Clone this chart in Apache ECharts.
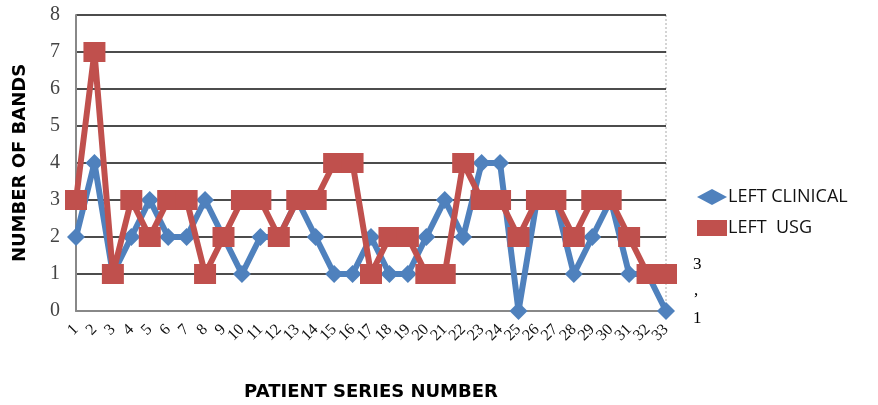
<!DOCTYPE html>
<html>
<head>
<meta charset="utf-8">
<script src="https://cdn.jsdelivr.net/npm/echarts@6/dist/echarts.min.js"></script>
<style>
  html, body { margin: 0; padding: 0; background: #fff; }
  #main { width: 878px; height: 405px; }
</style>
</head>
<body>
<div id="main"></div>
<script>
const myChart = echarts.init(document.getElementById('main'));

const patients = Array.from({ length: 33 }, (v, i) => String(i + 1));
const leftClinical = [2, 4, 1, 2, 3, 2, 2, 3, 2, 1, 2, 2, 3, 2, 1, 1, 2, 1, 1, 2, 3, 2, 4, 4, 0, 3, 3, 1, 2, 3, 1, 1, 0];
const leftUsg = [3, 7, 1, 3, 2, 3, 3, 1, 2, 3, 3, 2, 3, 3, 4, 4, 1, 2, 2, 1, 1, 4, 3, 3, 2, 3, 3, 2, 3, 3, 2, 1, 1];
const seriesNames = ['LEFT CLINICAL', 'LEFT  USG'];

const serif = 'Liberation Serif';
const sans = 'Open Sans';
const titleFont = 'DejaVu Sans';

let option = {
    animation: false,
    backgroundColor: '#fff',
    grid: { left: 76, right: 212, top: 15, bottom: 94, containLabel: false, outerBoundsMode: 'none' },
    legend: {
        orient: 'vertical',
        left: 692,
        top: 183,
        itemGap: 13,
        itemWidth: 30,
        itemHeight: 16,
        textStyle: { fontFamily: sans, fontSize: 18, color: '#111', padding: [0, 0, 0, -4] },
        data: [
            { name: seriesNames[0], icon: 'diamond' },
            { name: seriesNames[1], icon: 'rect' }
        ]
    },
    xAxis: {
        type: 'category',
        data: patients,
        boundaryGap: false,
        name: 'PATIENT SERIES NUMBER',
        nameLocation: 'middle',
        nameGap: 72,
        nameTextStyle: { fontFamily: titleFont, fontWeight: 'bold', fontSize: 18, color: '#000' },
        axisLine: { lineStyle: { color: '#888', width: 2 } },
        axisTick: { show: false },
        axisLabel: {
            interval: 0,
            rotate: 45,
            margin: 16,
            fontFamily: serif,
            fontSize: 16,
            color: '#111'
        },
        splitLine: { show: false }
    },
    yAxis: {
        type: 'value',
        min: 0,
        max: 8,
        interval: 1,
        name: 'NUMBER OF BANDS',
        nameLocation: 'middle',
        nameGap: 47,
        nameTextStyle: { fontFamily: titleFont, fontWeight: 'bold', fontSize: 18, color: '#000' },
        axisLine: { show: true, lineStyle: { color: '#888', width: 2 } },
        axisTick: { show: false },
        axisLabel: { fontFamily: serif, fontSize: 20, color: '#444', margin: 16 },
        splitLine: { lineStyle: { color: '#111', width: 1.5 } }
    },
    graphic: [
        { type: 'line', shape: { x1: 666, y1: 15, x2: 666, y2: 311 }, style: { stroke: '#aaa', lineWidth: 1, lineDash: [2, 2] } },
        { type: 'text', left: 693, top: 256, style: { text: '3', fontFamily: serif, fontSize: 17, fill: '#000' } },
        { type: 'text', left: 694, top: 282, style: { text: ',', fontFamily: serif, fontSize: 17, fill: '#000' } },
        { type: 'text', left: 693, top: 310, style: { text: '1', fontFamily: serif, fontSize: 17, fill: '#000' } }
    ],
    series: [
        {
            name: seriesNames[0],
            type: 'line',
            data: leftClinical,
            symbol: 'diamond',
            symbolSize: 18,
            lineStyle: { color: '#4F81BD', width: 6 },
            itemStyle: { color: '#4F81BD' },
            z: 2
        },
        {
            name: seriesNames[1],
            type: 'line',
            data: leftUsg,
            symbol: 'rect',
            symbolSize: [22, 20],
            lineStyle: { color: '#C0504D', width: 6 },
            itemStyle: { color: '#C0504D' },
            z: 3
        }
    ]
};

myChart.setOption(option);
</script>
</body>
</html>
